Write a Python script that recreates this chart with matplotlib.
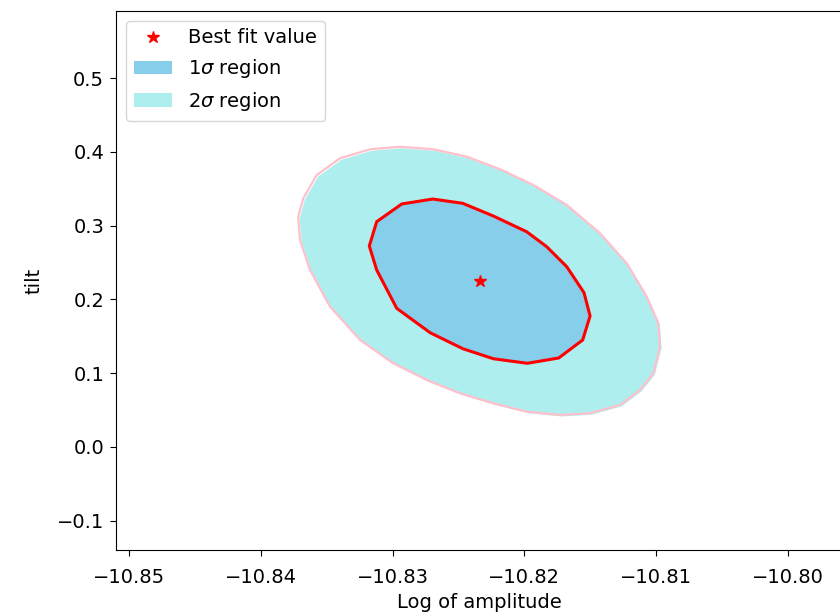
import matplotlib
matplotlib.use("Agg")
import matplotlib.pyplot as plt
import matplotlib.transforms as mtransforms
from matplotlib.patches import Polygon, Patch
from matplotlib.lines import Line2D

# 1-sigma contour (log amplitude, tilt)
sig1_x = [-10.83121, -10.82931, -10.82696, -10.82468, -10.82236, -10.81983, -10.81831,
          -10.81679, -10.81548, -10.81502, -10.81558, -10.81740, -10.81978, -10.82236,
          -10.82468, -10.82716, -10.82969, -10.83121, -10.83177]
sig1_y = [0.3053, 0.3293, 0.3360, 0.3302, 0.3130, 0.2917, 0.2714, 0.2443, 0.2091, 0.1775,
          0.1450, 0.1206, 0.1134, 0.1196, 0.1332, 0.1549, 0.1879, 0.2398, 0.2724]

# 2-sigma contour
sig2_x = [-10.83678, -10.83576, -10.83399, -10.83171, -10.82944, -10.82691, -10.82438,
          -10.82185, -10.81932, -10.81679, -10.81426, -10.81224, -10.81072, -10.80984,
          -10.80971, -10.81022, -10.81123, -10.81275, -10.81502, -10.81730, -10.81983,
          -10.82236, -10.82489, -10.82741, -10.82995, -10.83247, -10.83475, -10.83627,
          -10.83703, -10.83716]
sig2_y = [0.3370, 0.3686, 0.3912, 0.4034, 0.4069, 0.4034, 0.3934, 0.3763, 0.3550, 0.3279,
          0.2896, 0.2489, 0.2037, 0.1676, 0.1359, 0.0999, 0.0772, 0.0569, 0.0457, 0.0434,
          0.0478, 0.0592, 0.0728, 0.0908, 0.1134, 0.1450, 0.1901, 0.2398, 0.2805, 0.3121]

best_x = [-10.82337]
best_y = [0.2249]

xticks = [-10.85, -10.84, -10.83, -10.82, -10.81, -10.80]
yticks = [-0.1, 0.0, 0.1, 0.2, 0.3, 0.4, 0.5]

W, H = 840, 616
fig = plt.figure(figsize=(W / 100, H / 100), dpi=100)
ax = fig.add_axes([116 / W, 66 / H, (843 - 116) / W, (550 - 11) / H])

FS = 14

# filled 2-sigma region is slightly offset from its outline in the reference
fill_off = ax.transData + mtransforms.ScaledTranslation(1.5 / 100, -1.5 / 100, fig.dpi_scale_trans)
ax.add_patch(Polygon(list(zip(sig2_x, sig2_y)), closed=True, facecolor='paleturquoise',
                     edgecolor='none', zorder=1, transform=fill_off))
ax.add_patch(Polygon(list(zip(sig2_x, sig2_y)), closed=True, facecolor='none',
                     edgecolor='pink', linewidth=1.6, zorder=1.5))
ax.add_patch(Polygon(list(zip(sig1_x, sig1_y)), closed=True, facecolor='skyblue',
                     edgecolor='red', linewidth=2.2, zorder=2))
ax.plot(best_x, best_y, linestyle='none', marker='*', color='red', markersize=9, zorder=3)

ax.set_xlim(-10.85099, -10.79583)
ax.set_ylim(-0.1396, 0.5908)
ax.set_xticks(xticks)
ax.set_yticks(yticks)
ax.set_xticklabels([f"{v:.2f}".replace('-', '\u2212') for v in xticks])
ax.set_yticklabels([f"{v:.1f}".replace('-', '\u2212') for v in yticks])
ax.tick_params(labelsize=FS)
ax.tick_params(axis='x', length=4.5, pad=8.5)
ax.tick_params(axis='y', length=4.5, pad=4)
ax.set_xlabel("Log of amplitude", fontsize=FS, labelpad=4)
ax.set_ylabel("tilt", fontsize=FS, labelpad=10)

handles = [Line2D([], [], linestyle='none', marker='*', color='red', markersize=9),
           Patch(facecolor='skyblue'), Patch(facecolor='paleturquoise')]
labels = ["Best fit value", r"1$\sigma$ region", r"2$\sigma$ region"]
ax.legend(handles, labels, loc='upper left', fontsize=FS)

fig.savefig("out.png", dpi=100)
